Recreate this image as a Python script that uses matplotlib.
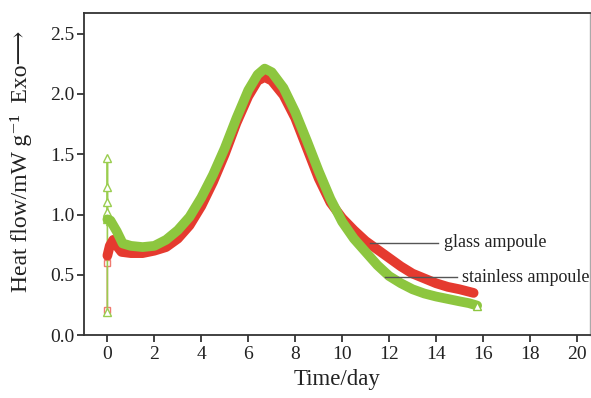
import numpy as np
import matplotlib
matplotlib.use("Agg")
import matplotlib.pyplot as plt

plt.rcParams['font.family'] = ['Liberation Serif', 'DejaVu Serif', 'DejaVu Sans']

# glass ampoule (red, squares)
glass_days = [0, 0, 0, 0.1, 0.25, 0.4, 0.6, 1, 1.5, 2, 2.5, 3, 3.5, 4, 4.5, 5, 5.5,
              6, 6.4, 6.7, 7, 7.5, 8, 8.5, 9, 9.5, 10, 10.5, 11, 11.5, 12, 12.5,
              13, 13.5, 14, 14.5, 15, 15.6]
glass_flow = [0.21, 0.60, 0.66, 0.74, 0.79, 0.74, 0.69, 0.68, 0.68, 0.70, 0.73, 0.80,
              0.91, 1.07, 1.27, 1.50, 1.76, 1.98, 2.11, 2.14, 2.11, 1.99, 1.80, 1.55,
              1.30, 1.10, 0.97, 0.87, 0.78, 0.71, 0.64, 0.57, 0.51, 0.47, 0.43, 0.40,
              0.38, 0.35]

# stainless ampoule (green, triangles)
steel_days = [0, 0, 0, 0, 0, 0, 0.13, 0.4, 0.65, 1, 1.5, 2, 2.5, 3, 3.5, 4, 4.5, 5,
              5.5, 6, 6.4, 6.7, 7, 7.5, 8, 8.5, 9, 9.5, 10, 10.5, 11, 11.5, 12, 12.5,
              13, 13.5, 14, 14.5, 15, 15.4, 15.75]
steel_flow = [0.19, 1.47, 1.23, 1.10, 1.02, 0.96, 0.95, 0.86, 0.76, 0.74, 0.73, 0.74,
              0.79, 0.87, 0.98, 1.14, 1.33, 1.55, 1.80, 2.03, 2.16, 2.21, 2.18, 2.05,
              1.85, 1.61, 1.36, 1.13, 0.94, 0.80, 0.69, 0.58, 0.49, 0.43, 0.38, 0.345,
              0.32, 0.30, 0.28, 0.265, 0.245]

x_ticks = list(range(0, 21, 2))
y_ticks = [0.0, 0.5, 1.0, 1.5, 2.0, 2.5]

red = '#e53a2f'
green = '#8dc63f'

fig = plt.figure(figsize=(5.91, 3.98), dpi=100)
ax = fig.add_axes([0.142, 0.158, 0.856, 0.809])

gd = np.array(glass_days)
gf = np.array(glass_flow)
sd = np.array(steel_days)
sf = np.array(steel_flow)

# thin start spikes with hollow markers
ax.plot(gd[:4], gf[:4], color=red, lw=1, marker='s', ms=5, mfc='white', mec='#f07a70')
ax.plot(sd[:7], sf[:7], color='#9acd4f', lw=1.2, marker='^', ms=6, mfc='white', mec='#9acd4f')

# thick bands
ax.plot(gd[2:], gf[2:], color=red, lw=7, solid_capstyle='round', solid_joinstyle='round')
ax.plot(sd[5:], sf[5:], color=green, lw=7, solid_capstyle='round', solid_joinstyle='round')
ax.plot(sd[-1], sf[-1], marker='^', ms=6, mfc='white', mec=green, color=green)

# annotations
ax.plot([11.19, 14.09], [0.764, 0.764], color='#555555', lw=1)
ax.text(14.34, 0.764, 'glass ampoule', va='center', ha='left', fontsize=13, color='#222222')
ax.plot([11.83, 14.89], [0.48, 0.48], color='#555555', lw=1)
ax.text(15.1, 0.48, 'stainless ampoule', va='center', ha='left', fontsize=13, color='#222222')

ax.set_xlim(-1, 20.55)
ax.set_ylim(0, 2.67)
ax.set_xticks(x_ticks)
ax.set_yticks(y_ticks)
ax.set_yticklabels([f'{v:.1f}' for v in y_ticks])
ax.tick_params(direction='out', length=5, width=1.2, labelsize=14, colors='#222222')
ax.tick_params(axis='x', pad=3)
ax.tick_params(axis='y', pad=2)

for s in ['left', 'top', 'bottom']:
    ax.spines[s].set_color('#333333')
    ax.spines[s].set_linewidth(1.3)
ax.spines['right'].set_color('#aaaaaa')
ax.spines['right'].set_linewidth(1)

ax.set_xlabel('Time/day', fontsize=16.5, color='#222222', labelpad=4)
ax.set_ylabel('Heat flow/mW g\u207b\u00b9  Exo\u27f6', fontsize=17, color='#222222')
ax.yaxis.set_label_coords(-0.102, 0.54)

fig.savefig('out.png', dpi=100)
